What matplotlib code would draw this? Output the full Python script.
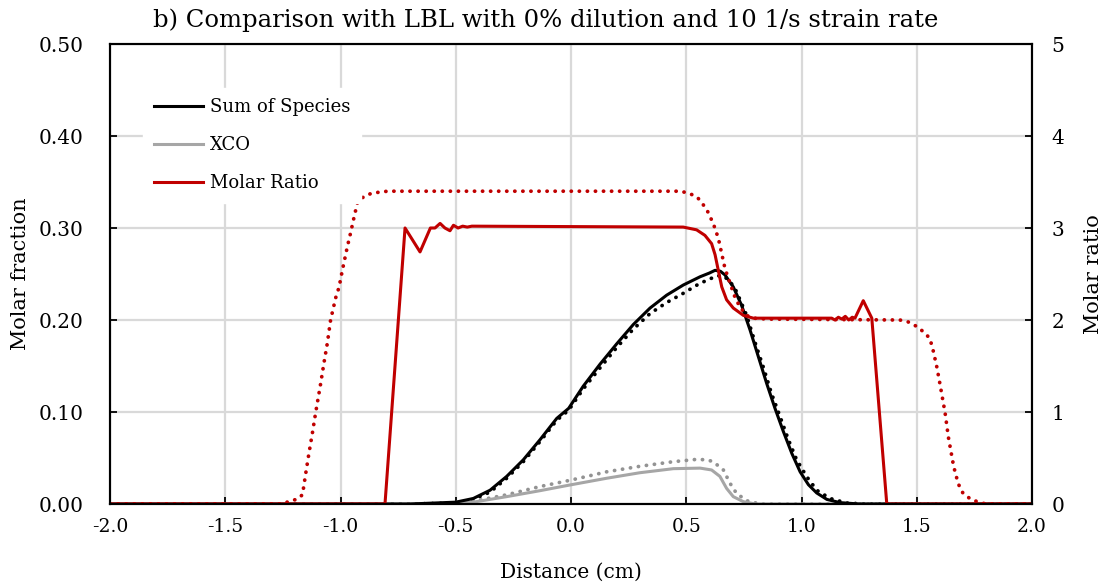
import matplotlib
matplotlib.use("Agg")
import matplotlib.pyplot as plt
from matplotlib.lines import Line2D

# ---- data -------------------------------------------------------------
sum_x = [-2.0, -0.7, -0.5, -0.424, -0.351, -0.279, -0.207, -0.134, -0.062, -0.01,
         0.053, 0.126, 0.198, 0.270, 0.343, 0.415, 0.487, 0.560, 0.600, 0.625,
         0.648, 0.668, 0.704, 0.740, 0.777, 0.813, 0.849, 0.885, 0.921, 0.958,
         0.994, 1.030, 1.066, 1.110, 1.167, 1.25, 2.0]
sum_y = [0, 0, 0.002, 0.006, 0.015, 0.030, 0.048, 0.070, 0.093, 0.104,
         0.128, 0.152, 0.174, 0.195, 0.213, 0.227, 0.238, 0.247, 0.251, 0.254,
         0.253, 0.249, 0.236, 0.216, 0.189, 0.160, 0.131, 0.104, 0.079, 0.055,
         0.035, 0.021, 0.012, 0.005, 0.0015, 0, 0]

sum_lbl_x = [-2.0, -0.7, -0.5, -0.424, -0.351, -0.279, -0.207, -0.134, -0.062, -0.01,
             0.053, 0.126, 0.198, 0.270, 0.343, 0.415, 0.487, 0.560, 0.589, 0.632,
             0.661, 0.690, 0.718, 0.762, 0.798, 0.834, 0.870, 0.907, 0.943, 0.979,
             1.022, 1.066, 1.124, 1.197, 1.28, 2.0]
sum_lbl_y = [0, 0, 0.001, 0.005, 0.013, 0.028, 0.046, 0.068, 0.091, 0.102,
             0.125, 0.148, 0.170, 0.190, 0.207, 0.219, 0.229, 0.240, 0.243, 0.248,
             0.248, 0.242, 0.231, 0.205, 0.176, 0.149, 0.120, 0.095, 0.070, 0.048,
             0.030, 0.015, 0.006, 0.001, 0, 0]

xco_x = [-2.0, -0.6, -0.424, -0.279, -0.134, -0.004, 0.155, 0.299, 0.444, 0.560,
         0.610, 0.646, 0.675, 0.704, 0.748, 0.80, 2.0]
xco_y = [0, 0, 0.002, 0.008, 0.0145, 0.0207, 0.028, 0.034, 0.0384, 0.039,
         0.037, 0.030, 0.017, 0.008, 0.0025, 0, 0]

xco_lbl_x = [-2.0, -0.6, -0.424, -0.279, -0.134, 0.0, 0.155, 0.299, 0.444, 0.545,
             0.590, 0.617, 0.661, 0.690, 0.718, 0.762, 0.82, 2.0]
xco_lbl_y = [0, 0, 0.003, 0.010, 0.019, 0.026, 0.035, 0.041, 0.046, 0.0485,
             0.048, 0.046, 0.037, 0.0225, 0.0116, 0.0036, 0, 0]

ratio_x = [-2.0, -0.807, -0.72, -0.655, -0.61, -0.59, -0.568, -0.547, -0.525, -0.51,
           -0.49, -0.47, -0.45, -0.43, 0.487, 0.545, 0.581, 0.61, 0.625, 0.639,
           0.654, 0.675, 0.704, 0.748, 0.791, 1.131, 1.145, 1.16, 1.175, 1.19,
           1.205, 1.22, 1.232, 1.268, 1.305, 1.37, 2.0]
ratio_y = [0, 0, 3.0, 2.74, 3.0, 3.0, 3.05, 3.0, 2.97, 3.03,
           3.0, 3.02, 3.01, 3.02, 3.01, 2.98, 2.92, 2.83, 2.71, 2.54,
           2.36, 2.22, 2.13, 2.05, 2.02, 2.02, 2.0, 2.03, 2.01, 2.04,
           2.0, 2.03, 2.02, 2.21, 2.02, 0, 0]

ratio_lbl_x = [-2.0, -1.25, -1.218, -1.19, -1.165, -1.151, -1.137, -1.122, -1.108, -1.086,
               -1.072, -1.057, -1.043, -1.021, -1.006, -0.992, -0.970, -0.955, -0.941, -0.926,
               -0.895, -0.861, -0.796, 0.473, 0.509, 0.545, 0.560, 0.589, 0.617, 0.639,
               0.654, 0.668, 0.690, 0.711, 0.733, 0.762, 0.791, 0.85, 1.427, 1.462,
               1.50, 1.53, 1.557, 1.572, 1.587, 1.601, 1.623, 1.637, 1.66, 1.68,
               1.70, 1.735, 1.77, 1.80, 2.0]
ratio_lbl_y = [0, 0, 0.035, 0.05, 0.1, 0.33, 0.55, 0.77, 0.99, 1.31,
               1.53, 1.75, 2.0, 2.24, 2.36, 2.54, 2.80, 2.96, 3.12, 3.28,
               3.35, 3.38, 3.40, 3.40, 3.38, 3.34, 3.30, 3.20, 3.05, 2.89,
               2.72, 2.56, 2.40, 2.25, 2.14, 2.05, 2.02, 2.01, 2.0, 1.98,
               1.93, 1.87, 1.80, 1.66, 1.49, 1.30, 0.99, 0.73, 0.41, 0.22,
               0.12, 0.05, 0.02, 0, 0]

x_ticks = [-2.0, -1.5, -1.0, -0.5, 0.0, 0.5, 1.0, 1.5, 2.0]
y_ticks = [0.0, 0.1, 0.2, 0.3, 0.4, 0.5]
y2_ticks = [0, 1, 2, 3, 4, 5]

# ---- style ------------------------------------------------------------
SERIF = ["DejaVu Serif"]
BLACK = "#000000"
GREY = "#A6A6A6"
GREY_DOT = "#939393"
RED = "#C00000"
GRID = "#D9D9D9"
LW = 2.2
DOT = dict(linewidth=2.7, linestyle=(0, (0.05, 2.1)), dash_capstyle="round")

fig = plt.figure(figsize=(11.08, 5.88), dpi=100)
ax = fig.add_axes([110 / 1108, 84 / 588, 922 / 1108, 460 / 588])
ax2 = ax.twinx()

ax.set_xlim(-2.0, 2.0)
ax.set_ylim(0.0, 0.5)
ax2.set_ylim(0, 5)

ax.set_xticks(x_ticks)
ax.set_xticklabels([f"{v:.1f}" for v in x_ticks])
ax.set_yticks(y_ticks)
ax.set_yticklabels([f"{v:.2f}" for v in y_ticks])
ax2.set_yticks(y2_ticks)
ax2.set_yticklabels([str(v) for v in y2_ticks])

ax.grid(True, color=GRID, linewidth=1.6)
ax.set_axisbelow(True)

for a in (ax, ax2):
    for s in a.spines.values():
        s.set_linewidth(1.5)
        s.set_color(BLACK)
ax.tick_params(axis="both", direction="in", length=5, width=1.3)
ax.tick_params(axis="x", pad=10, labelsize=13.5)
ax.tick_params(axis="y", pad=19, labelsize=14.5)
ax2.tick_params(axis="y", direction="in", length=5, width=1.3, labelsize=14.5, pad=14)
for lbl in ax.get_xticklabels() + ax.get_yticklabels() + ax2.get_yticklabels():
    lbl.set_family(SERIF)

# mole-fraction curves (left axis)
ax.plot(sum_lbl_x, sum_lbl_y, color=BLACK, **DOT)
ax.plot(xco_lbl_x, xco_lbl_y, color=GREY_DOT, **DOT)
ax.plot(xco_x, xco_y, color=GREY, linewidth=LW)
ax.plot(sum_x, sum_y, color=BLACK, linewidth=LW)

# molar ratio (right axis)
ax2.plot(ratio_lbl_x, ratio_lbl_y, color=RED, **DOT)
ax2.plot(ratio_x, ratio_y, color=RED, linewidth=LW)

ax.set_ylabel("Molar fraction", family=SERIF, fontsize=15, labelpad=6)
ax2.set_ylabel("Molar ratio", family=SERIF, fontsize=15, labelpad=14)
ax.set_xlabel("Distance (cm)", family=SERIF, fontsize=14.5, labelpad=19.5)

fig.text(546 / 1108, 1 - 20 / 588, "b) Comparison with LBL with 0% dilution and 10 1/s strain rate",
         family=SERIF, fontsize=17.5, ha="center", va="center")

handles = [Line2D([], [], color=BLACK, linewidth=LW),
           Line2D([], [], color=GREY, linewidth=LW),
           Line2D([], [], color=RED, linewidth=LW)]
leg = ax2.legend(handles, ["Sum of Species", "XCO", "Molar Ratio"],
                 loc="upper left", bbox_to_anchor=(0.026, 0.925),
                 frameon=True, fancybox=False, framealpha=1.0, edgecolor="white",
                 prop={"family": SERIF, "size": 13},
                 handlelength=2.7, handletextpad=0.4, labelspacing=1.1,
                 borderpad=0.6)

fig.savefig("out.png", dpi=100)
